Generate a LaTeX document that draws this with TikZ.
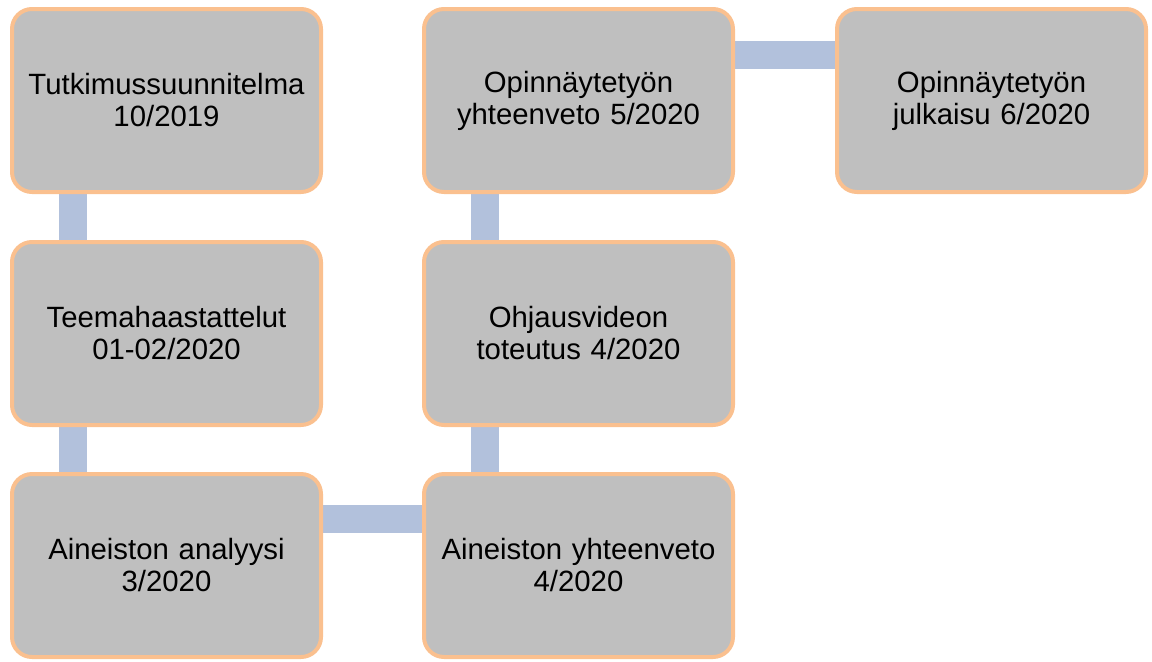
\documentclass[tikz,border=0pt]{standalone}
\usepackage{fontspec}
\setmainfont{Liberation Sans}
\usetikzlibrary{calc,backgrounds}
\definecolor{boxfill}{RGB}{191,191,191}
\definecolor{boxedge}{RGB}{250,192,143}
\definecolor{barcol}{RGB}{178,193,220}
\begin{document}
\begin{tikzpicture}[x=0.75pt,y=-0.75pt,
  stage/.style={draw=boxedge,fill=boxfill,line width=3pt,rounded corners=15pt,
    minimum width=231.75pt,minimum height=137.25pt,inner sep=0pt,
    align=center,font=\fontsize{22}{24}\selectfont,text width=225pt},
  bar/.style={draw=barcol,line width=21pt}]
\useasboundingbox (0,0) rectangle (1152,661);
\node[stage] (a) at (166.5,100.5) {Tutkimussuunnitelma\\10/2019};
\node[stage] (b) at (166.5,333.5) {Teemahaastattelut\\01-02/2020};
\node[stage] (c) at (166.5,565.5) {Aineiston analyysi\\3/2020};
\node[stage] (d) at (578.5,565.5) {Aineiston yhteenveto\\4/2020};
\node[stage] (e) at (578.5,333.5) {Ohjausvideon\\toteutus 4/2020};
\node[stage] (f) at (578.5,100.5) {Opinnäytetyön\\yhteenveto 5/2020};
\node[stage] (g) at (991.5,100.5) {Opinnäytetyön\\julkaisu 6/2020};
\begin{scope}[on background layer]
\draw[bar] ($(a.south west)+(63,0)$) -- ($(b.north west)+(63,0)$);
\draw[bar] ($(b.south west)+(63,0)$) -- ($(c.north west)+(63,0)$);
\draw[bar] ($(c.east)+(0,-46.5)$) -- ($(d.west)+(0,-46.5)$);
\draw[bar] ($(d.north west)+(63,0)$) -- ($(e.south west)+(63,0)$);
\draw[bar] ($(e.north west)+(63,0)$) -- ($(f.south west)+(63,0)$);
\draw[bar] ($(f.east)+(0,-46)$) -- ($(g.west)+(0,-46)$);
\end{scope}
\end{tikzpicture}
\end{document}
